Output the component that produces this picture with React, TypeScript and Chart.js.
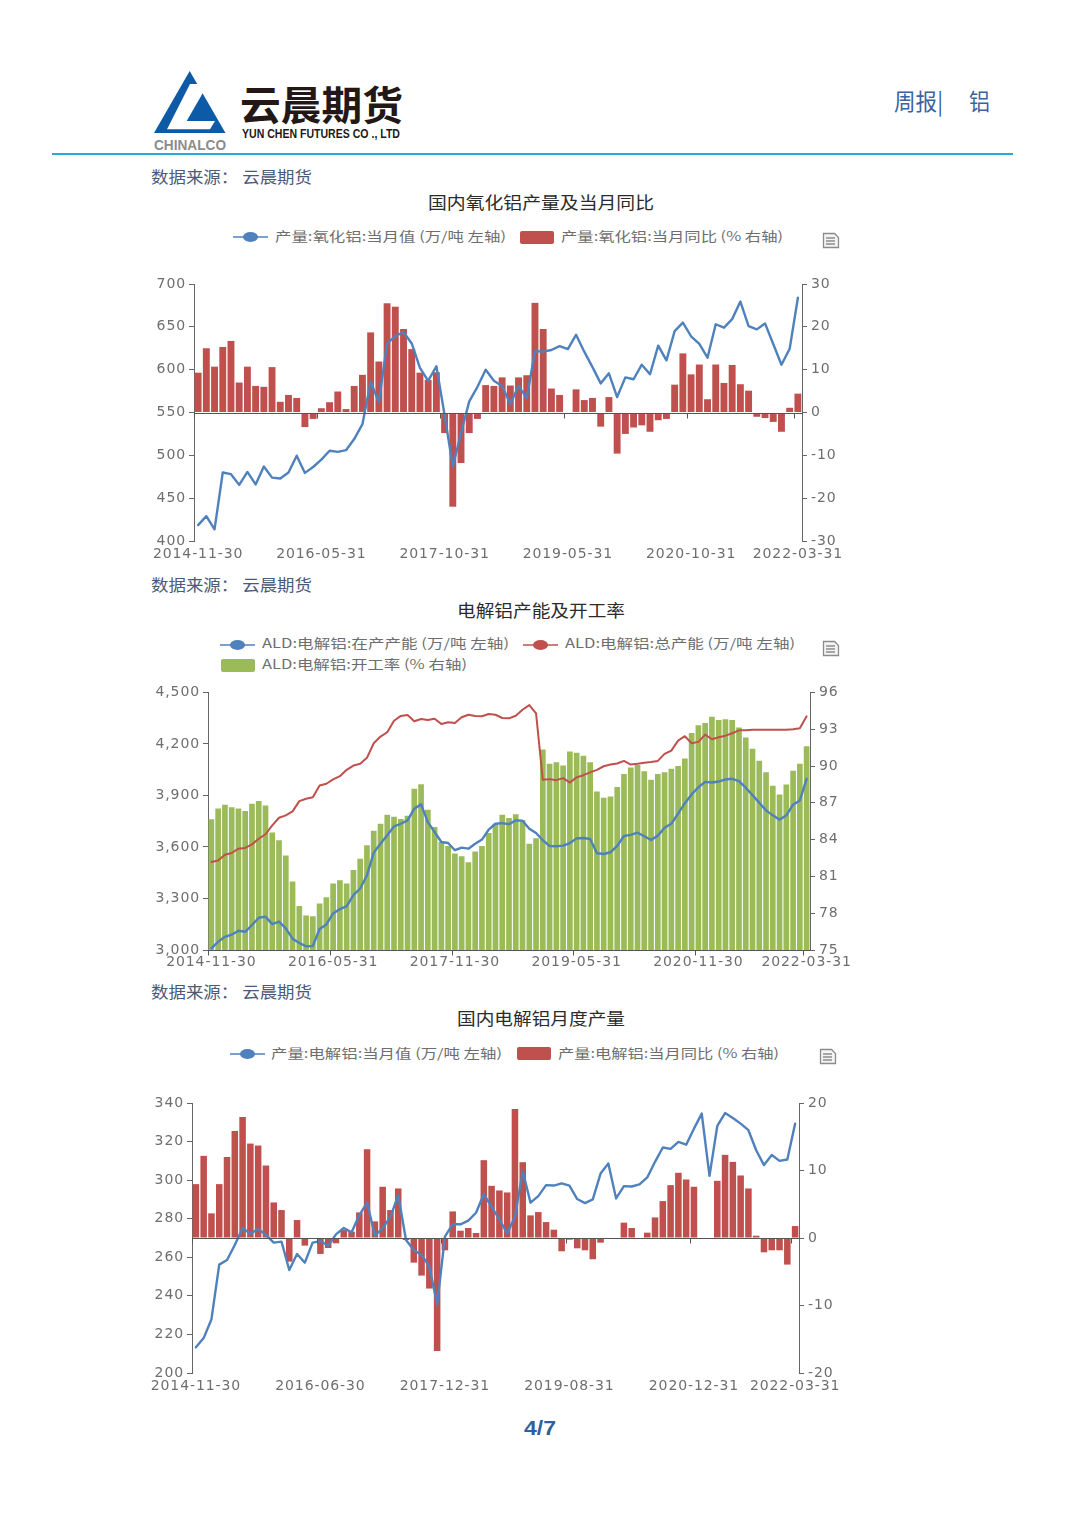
import React, { useEffect, useRef } from "react";
import { Chart, registerables } from "chart.js";

Chart.register(...registerables);

const BLUE = "#4f81bd";
const RED = "#c0504d";
const GREEN = "#9bbb59";
const AXIS = "#666666";
const LABEL = "#6e6e6e";

// ---------- chart 1 : alumina ----------
const dates1 = [
  "2014-11-30","2014-12-31","2015-03-31","2015-04-30","2015-05-31","2015-06-30","2015-07-31","2015-08-31","2015-09-30","2015-10-31","2015-11-30","2015-12-31",
  "2016-01-31","2016-03-31","2016-04-30","2016-05-31","2016-06-30","2016-07-31","2016-08-31","2016-09-30","2016-10-31","2016-11-30","2016-12-31",
  "2017-03-31","2017-04-30","2017-05-31","2017-06-30","2017-07-31","2017-08-31","2017-09-30","2017-10-31","2017-11-30","2017-12-31",
  "2018-03-31","2018-04-30","2018-05-31","2018-06-30","2018-07-31","2018-08-31","2018-09-30","2018-10-31","2018-11-30","2018-12-31",
  "2019-03-31","2019-04-30","2019-05-31","2019-06-30","2019-07-31","2019-08-31","2019-09-30","2019-10-31","2019-11-30","2019-12-31",
  "2020-03-31","2020-04-30","2020-05-31","2020-06-30","2020-07-31","2020-08-31","2020-09-30","2020-10-31","2020-11-30","2020-12-31",
  "2021-03-31","2021-04-30","2021-05-31","2021-06-30","2021-07-31","2021-08-31","2021-09-30","2021-10-31","2021-11-30","2021-12-31","2022-03-31",
];
const labelled1 = [0, 15, 30, 45, 60, 73];
const aluminaOutput = [
  418.6,429,413.6,480,478,465.5,480.6,466,487,474,473,480,499.6,479.5,486.4,495,505.4,504,506,519,536.4,586,562,630.6,639,644,630.6,602,587,604,547,487,526,563,580,600,587,581,560,581,566.7,621.7,621,623,627.5,624,640.7,621,603,584,595.7,568,591,588.8,605.8,594.6,628,610.9,645,655,639,630,614,653,649,659,679.5,650.8,647,654,630,605.8,624.4,684,
];
const aluminaYoY = [
  9.3,15,10.7,15.3,16.7,7,10.7,6.2,6,10.6,2.5,4.1,3.4,-3.4,-1.5,1,2.4,4.9,0.8,6.2,8.8,18.7,11.9,25.5,24.7,19.5,14.8,9.3,7.6,9.4,-4.8,-22,-11.8,-4.8,-1.5,6.4,6.2,8.2,6.3,8.2,8.7,25.6,19.5,5.6,4.1,0,5.4,2.9,3.4,-3.3,3.6,-9.6,-5,-3.5,-3,-4.5,-1.8,-1.5,6.5,13.8,8.9,11.2,3.1,11.2,6.9,11.1,6.6,5.1,-1,-1.3,-2.2,-4.5,1.1,4.4,
];

// ---------- chart 2 : capacity ----------
const dates2 = [
  "2014-11-30","2014-12-31",
  "2015-01-31","2015-02-28","2015-03-31","2015-04-30","2015-05-31","2015-06-30","2015-07-31","2015-08-31","2015-09-30","2015-10-31","2015-11-30","2015-12-31",
  "2016-01-31","2016-02-29","2016-03-31","2016-04-30","2016-05-31","2016-06-30","2016-07-31","2016-08-31","2016-09-30","2016-10-31","2016-11-30","2016-12-31",
  "2017-01-31","2017-02-28","2017-03-31","2017-04-30","2017-05-31","2017-06-30","2017-07-31","2017-08-31","2017-09-30","2017-10-31","2017-11-30","2017-12-31",
  "2018-01-31","2018-02-28","2018-03-31","2018-04-30","2018-05-31","2018-06-30","2018-07-31","2018-08-31","2018-09-30","2018-10-31","2018-11-30","2018-12-31",
  "2019-01-31","2019-02-28","2019-03-31","2019-04-30","2019-05-31","2019-06-30","2019-07-31","2019-08-31","2019-09-30","2019-10-31","2019-11-30","2019-12-31",
  "2020-01-31","2020-02-29","2020-03-31","2020-04-30","2020-05-31","2020-06-30","2020-07-31","2020-08-31","2020-09-30","2020-10-31","2020-11-30","2020-12-31",
  "2021-01-31","2021-02-28","2021-03-31","2021-04-30","2021-05-31","2021-06-30","2021-07-31","2021-08-31","2021-09-30","2021-10-31","2021-11-30","2021-12-31",
  "2022-01-31","2022-02-28","2022-03-31",
];
const labelled2 = [0, 18, 36, 54, 72, 88];
const activeCapacity = [
  3010,3048,3077,3089,3112,3106,3145,3188,3194,3151,3165,3126,3066,3041,3021,3023,3122,3149,3213,3238,3255,3319,3358,3435,3567,3619,3668,3720,3735,3755,3823,3848,3745,3687,3629,3623,3581,3596,3590,3619,3643,3701,3735,3739,3732,3755,3753,3706,3681,3639,3606,3604,3608,3623,3650,3652,3646,3563,3559,3569,3606,3664,3670,3683,3662,3641,3666,3712,3735,3794,3855,3906,3948,3979,3975,3981,3993,3997,3983,3945,3902,3857,3813,3784,3759,3784,3846,3871,3997,
];
const totalCapacity = [
  3513,3521,3555,3565,3590,3594,3615,3648,3674,3726,3770,3784,3807,3867,3881,3890,3958,3968,3993,4012,4049,4074,4084,4119,4204,4243,4268,4335,4363,4368,4332,4345,4339,4347,4316,4326,4322,4355,4370,4363,4361,4374,4370,4351,4349,4364,4399,4426,4378,3991,3995,3989,4001,3975,4005,4018,4034,4049,4070,4080,4086,4101,4080,4084,4090,4095,4101,4142,4161,4219,4245,4204,4212,4254,4227,4239,4248,4262,4279,4279,4283,4283,4283,4283,4283,4283,4285,4291,4361,
];
const utilisation = [
  85.65,86.54,86.84,86.63,86.54,86.33,86.92,87.14,86.79,84.57,83.94,82.7,80.58,78.58,77.82,77.76,78.79,79.31,80.42,80.69,80.42,81.53,82.43,83.54,84.73,85.3,86.03,85.87,85.68,85.95,88.14,88.52,86.44,85.03,83.8,83.48,82.86,82.64,82.15,83.02,83.48,84.54,85.3,86.03,85.76,86.06,85.6,83.67,84.1,91.34,90.18,90.31,90.04,91.18,91.07,90.83,90.31,87.93,87.41,87.52,88.28,89.34,89.88,90.09,89.58,88.88,89.34,89.5,89.77,90.01,90.61,92.7,93.32,93.51,94.02,93.75,93.81,93.75,93.13,92.32,91.4,90.42,89.5,88.39,87.68,88.5,89.61,90.18,91.61,
];

// ---------- chart 3 : electrolytic aluminium ----------
const dates3 = [
  "2014-11-30","2014-12-31","2015-03-31","2015-04-30","2015-05-31","2015-06-30","2015-07-31","2015-08-31","2015-09-30","2015-10-31","2015-11-30","2015-12-31",
  "2016-01-31","2016-03-31","2016-04-30","2016-05-31","2016-06-30","2016-07-31","2016-08-31","2016-09-30","2016-10-31","2016-11-30","2016-12-31",
  "2017-03-31","2017-04-30","2017-05-31","2017-06-30","2017-07-31","2017-08-31","2017-09-30","2017-10-31","2017-11-30","2017-12-31",
  "2018-03-31","2018-04-30","2018-05-31","2018-06-30","2018-07-31","2018-08-31","2018-09-30","2018-10-31","2018-11-30","2018-12-31",
  "2019-03-31","2019-04-30","2019-05-31","2019-06-30","2019-07-31","2019-08-31","2019-09-30","2019-10-31","2019-11-30","2019-12-31",
  "2020-01-31","2020-02-29","2020-03-31","2020-04-30","2020-05-31","2020-06-30","2020-07-31","2020-08-31","2020-09-30","2020-10-31","2020-11-30","2020-12-31",
  "2021-03-31","2021-04-30","2021-05-31","2021-06-30","2021-07-31","2021-08-31","2021-09-30","2021-10-31","2021-11-30","2021-12-31",
  "2022-01-31","2022-02-28","2022-03-31",
];
const labelled3 = [0, 16, 32, 48, 64, 77];
const aluminiumOutput = [
  213.3,218.1,227.9,256.2,258.6,266.4,275.2,272.2,274.7,271.6,267.6,268.1,253.4,261.7,257.2,267.6,268.4,266,271.9,275.2,272.9,281.9,288.4,271.2,275,281,292.2,269,263.8,261.2,255.2,235.5,270.7,277.2,277.1,279,283.1,292.8,286.2,279.7,272.4,281,304.7,288.3,291.7,297.4,297.2,298.3,297.2,290.2,288.1,290,303.4,308.6,290.5,296.9,296.7,297.8,301.4,309.5,316.9,316.2,319.8,318.4,326.7,334.5,302.2,328.1,334.8,332.2,329.3,325.9,315.5,307.8,313,310,310.7,329.3,
];
const aluminiumYoY = [
  7.98,12.17,3.65,7.98,12,15.86,17.93,13.99,13.7,10.74,5.27,4.14,-3.5,2.66,-1.13,0,-2.36,-1.48,-0.79,1.18,0.94,3.79,13.15,2.46,7.59,4.14,7.34,-0.3,-3.65,-5.57,-7.49,-16.75,-1.82,3.94,1.08,1.48,0.74,11.53,7.73,7.04,6.75,19.11,11.23,3.35,3.84,2.36,1.23,-1.97,-0.25,-1.53,-1.82,-3.15,-0.69,0,0,2.27,1.48,-0.05,0.79,3.05,5.47,7.83,9.66,8.67,7.59,0,0,8.47,12.32,11.28,9.26,7.34,0.34,-2.12,-1.82,-1.82,-3.94,1.77,
];

const TICK_FONT = { family: "'DejaVu Sans'", size: 14 };

function xAxisPlugin(labelled: number[], axisValue: number) {
  return {
    id: "xAxisLine",
    beforeDraw(chart: any) {
      chart.ctx.letterSpacing = "0.9px";
    },
    afterDatasetsDraw(chart: any) {
      const { ctx, chartArea, scales } = chart;
      const y = Math.round(scales.yR.getPixelForValue(axisValue)) + 0.5;
      const half = (scales.x.getPixelForValue(1) - scales.x.getPixelForValue(0)) / 2;
      ctx.save();
      ctx.strokeStyle = "#555555";
      ctx.lineWidth = 1;
      ctx.beginPath();
      ctx.moveTo(chartArea.left, y);
      ctx.lineTo(chartArea.right, y);
      for (const i of labelled) {
        const x = Math.round(scales.x.getPixelForValue(i) - half) + 0.5;
        ctx.moveTo(x, y);
        ctx.lineTo(x, y + 5);
      }
      ctx.stroke();
      ctx.restore();
    },
  };
}

type Line = { label: string; data: number[]; color: string; width?: number };
type Spec = {
  left: number; top: number; width: number; height: number;
  plotLeft: number; plotRight: number; plotTop: number; plotBottom: number;
  dates: string[]; labelled: number[];
  lines: Line[]; bars: { label: string; data: number[]; color: string };
  yL: { min: number; max: number; step: number }; yR: { min: number; max: number; step: number };
  axisValue: number; labelPad: number;
};

function ChartBox({ spec }: { spec: Spec }) {
  const ref = useRef<HTMLCanvasElement>(null);
  useEffect(() => {
    const s = spec;
    const yCommon = {
      grid: { drawOnChartArea: false, drawTicks: true, tickLength: 5, tickColor: AXIS, tickWidth: 1 },
      border: { display: true, color: AXIS, width: 1 },
    };
    const chart = new Chart(ref.current as HTMLCanvasElement, {
      data: {
        labels: s.dates,
        datasets: [
          ...s.lines.map((l, i) => ({
            type: "line" as const, label: l.label, data: l.data, yAxisID: "yL", order: i,
            borderColor: l.color, backgroundColor: l.color, borderWidth: l.width ?? 2.4,
            pointRadius: 0, tension: 0, borderJoinStyle: "round" as const, borderCapStyle: "round" as const,
          })),
          {
            type: "bar" as const, label: s.bars.label, data: s.bars.data, yAxisID: "yR", order: 9,
            backgroundColor: s.bars.color, barPercentage: 0.84, categoryPercentage: 1,
          },
        ],
      },
      options: {
        animation: false, responsive: false,
        layout: { padding: { top: s.plotTop - s.top, left: 0, right: 0, bottom: 0 } },
        plugins: { legend: { display: false }, title: { display: false }, tooltip: { enabled: false } },
        scales: {
          x: {
            type: "category", offset: true,
            grid: { display: false, drawTicks: false }, border: { display: false },
            ticks: {
              autoSkip: false, maxRotation: 0, minRotation: 0, padding: s.labelPad, color: LABEL, font: TICK_FONT,
              callback: (_v: any, i: number) => (s.labelled.includes(i) ? s.dates[i] : ""),
            },
            afterFit: (a: any) => { a.height = s.top + s.height - s.plotBottom; },
          },
          yL: {
            position: "left", min: s.yL.min, max: s.yL.max, ...yCommon,
            ticks: { stepSize: s.yL.step, padding: 3, color: LABEL, font: TICK_FONT },
            afterFit: (a: any) => { a.width = s.plotLeft - s.left; },
          },
          yR: {
            position: "right", min: s.yR.min, max: s.yR.max, ...yCommon,
            ticks: { stepSize: s.yR.step, padding: 4, color: LABEL, font: TICK_FONT },
            afterFit: (a: any) => { a.width = s.left + s.width - s.plotRight; },
          },
        },
      } as any,
      plugins: [xAxisPlugin(s.labelled, s.axisValue)],
    } as any);
    return () => chart.destroy();
  }, [spec]);
  return (
    <canvas ref={ref} width={spec.width} height={spec.height}
      style={{ position: "absolute", left: spec.left, top: spec.top, width: spec.width, height: spec.height }} />
  );
}

const spec1: Spec = {
  left: 130, top: 270, width: 730, height: 295,
  plotLeft: 194, plotRight: 802, plotTop: 284, plotBottom: 541,
  dates: dates1, labelled: labelled1,
  lines: [{ label: "产量:氧化铝:当月值 (万/吨 左轴)", data: aluminaOutput, color: BLUE }],
  bars: { label: "产量:氧化铝:当月同比 (% 右轴)", data: aluminaYoY, color: RED },
  yL: { min: 400, max: 700, step: 50 }, yR: { min: -30, max: 30, step: 10 },
  axisValue: 0, labelPad: 5,
};
const spec2: Spec = {
  left: 140, top: 680, width: 720, height: 295,
  plotLeft: 208, plotRight: 810, plotTop: 692, plotBottom: 950,
  dates: dates2, labelled: labelled2,
  lines: [
    { label: "ALD:电解铝:在产产能 (万/吨 左轴)", data: activeCapacity, color: BLUE },
    { label: "ALD:电解铝:总产能 (万/吨 左轴)", data: totalCapacity, color: RED, width: 2 },
  ],
  bars: { label: "ALD:电解铝:开工率 (% 右轴)", data: utilisation, color: GREEN },
  yL: { min: 3000, max: 4500, step: 300 }, yR: { min: 75, max: 96, step: 3 },
  axisValue: 75, labelPad: 4,
};
const spec3: Spec = {
  left: 130, top: 1090, width: 730, height: 305,
  plotLeft: 192, plotRight: 799, plotTop: 1103, plotBottom: 1373,
  dates: dates3, labelled: labelled3,
  lines: [{ label: "产量:电解铝:当月值 (万/吨 左轴)", data: aluminiumOutput, color: BLUE }],
  bars: { label: "产量:电解铝:当月同比 (% 右轴)", data: aluminiumYoY, color: RED },
  yL: { min: 200, max: 340, step: 20 }, yR: { min: -20, max: 20, step: 10 },
  axisValue: 0, labelPad: 5,
};

const CJK = "'Noto Sans CJK SC'";

function Txt(p: { x: number; y: number; w?: number; size: number; color: string; weight?: number | string; family?: string; children: string }) {
  return (
    <text x={p.x} y={p.y} fontSize={p.size} fill={p.color} fontWeight={p.weight ?? 400} fontFamily={p.family ?? CJK}
      {...(p.w ? { textLength: p.w, lengthAdjust: "spacingAndGlyphs" } : {})}>{p.children}</text>
  );
}
function LineKey({ x, y, color }: { x: number; y: number; color: string }) {
  return (
    <g>
      <line x1={x} x2={x + 35} y1={y} y2={y} stroke={color} strokeWidth={1.5} />
      <ellipse cx={x + 17.5} cy={y} rx={7.5} ry={5} fill={color} />
    </g>
  );
}
function DocIcon({ x, y }: { x: number; y: number }) {
  return (
    <g fill="none" stroke="#8c8c8c" strokeWidth={1.3}>
      <path d={`M${x + 0.5} ${y + 0.5}h11l4 4v10h-15z`} fill="#f4f4f4" />
      <path d={`M${x + 3} ${y + 5}h9M${x + 3} ${y + 8}h9M${x + 3} ${y + 11}h9`} />
    </g>
  );
}
function Source({ y }: { y: number }) {
  return <Txt x={151} y={y} w={161} size={16} color="#4a5a78">数据来源： 云晨期货</Txt>;
}
function Title({ x, y, w, children }: { x: number; y: number; w: number; children: string }) {
  return <Txt x={x} y={y} w={w} size={16.5} color="#2b2b2b">{children}</Txt>;
}

function Overlay() {
  return (
    <svg width={1080} height={1526} style={{ position: "absolute", left: 0, top: 0 }}>
      {/* header */}
      <polygon points="189.7,71 225.5,133 154,133" fill="#0d5aa7" />
      <polygon points="190,84 208,84 186.7,121 215,121 210,129.3 167,129.3" fill="#ffffff" />
      <Txt x={154} y={149.5} w={72} size={15} weight={700} color="#8c8c8c" family="'Liberation Sans'">CHINALCO</Txt>
      <Txt x={240} y={120} w={163} size={40} weight={700} color="#231815">云晨期货</Txt>
      <Txt x={242} y={138} w={158} size={12.5} weight={700} color="#231815" family="'Liberation Sans'">YUN CHEN FUTURES CO ., LTD</Txt>
      <rect x={52} y={153} width={961} height={2} fill="#2ca6e0" />
      <Txt x={894} y={110} w={49} size={23} color="#3a62a0">周报|</Txt>
      <Txt x={969} y={110} w={21} size={23} color="#3a62a0">铝</Txt>

      {/* chart 1 */}
      <Source y={183} />
      <Title x={428} y={209} w={226}>国内氧化铝产量及当月同比</Title>
      <LineKey x={233} y={237} color={BLUE} />
      <Txt x={275} y={241} w={231} size={13} color={LABEL}>{spec1.lines[0].label}</Txt>
      <rect x={520} y={231} width={34} height={13} rx={2} fill={RED} />
      <Txt x={561} y={241} w={222} size={13} color={LABEL}>{spec1.bars.label}</Txt>
      <DocIcon x={823} y={233} />

      {/* chart 2 */}
      <Source y={591} />
      <Title x={457} y={617} w={168}>电解铝产能及开工率</Title>
      <LineKey x={220} y={645} color={BLUE} />
      <Txt x={262} y={648} w={247} size={13} color={LABEL}>{spec2.lines[0].label}</Txt>
      <LineKey x={523} y={645} color={RED} />
      <Txt x={565} y={648} w={230} size={13} color={LABEL}>{spec2.lines[1].label}</Txt>
      <rect x={221} y={659} width={34} height={13} rx={2} fill={GREEN} />
      <Txt x={262} y={669} w={205} size={13} color={LABEL}>{spec2.bars.label}</Txt>
      <DocIcon x={823} y={641} />

      {/* chart 3 */}
      <Source y={998} />
      <Title x={457} y={1025} w={168}>国内电解铝月度产量</Title>
      <LineKey x={230} y={1054} color={BLUE} />
      <Txt x={271} y={1058} w={231} size={13} color={LABEL}>{spec3.lines[0].label}</Txt>
      <rect x={517} y={1047} width={34} height={13} rx={2} fill={RED} />
      <Txt x={558} y={1058} w={221} size={13} color={LABEL}>{spec3.bars.label}</Txt>
      <DocIcon x={820} y={1049} />

      {/* page number */}
      <Txt x={524} y={1435} w={32} size={21} weight={700} color="#2f5f9e" family="'Liberation Sans'">4/7</Txt>
    </svg>
  );
}

export default function App() {
  return (
    <div style={{ position: "absolute", left: 0, top: 0, width: 1080, height: 1526, overflow: "hidden", background: "#fff", filter: "blur(0.45px)" }}>
      <Overlay />
      <ChartBox spec={spec1} />
      <ChartBox spec={spec2} />
      <ChartBox spec={spec3} />
    </div>
  );
}
